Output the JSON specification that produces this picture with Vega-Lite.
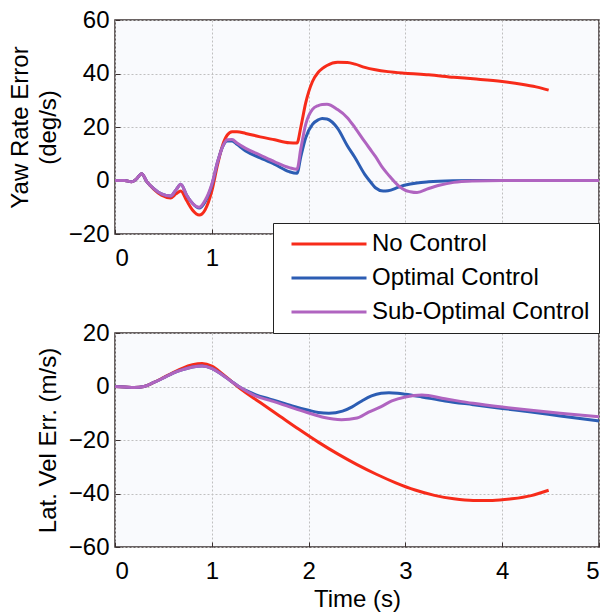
{
  "$schema": "https://vega.github.io/schema/vega-lite/v6.json",
  "padding": {"left": 7, "top": 7, "right": 0, "bottom": 0},
  "background": "#ffffff",
  "spacing": 99,
  "bounds": "flush",
  "config": {
    "font": "Liberation Sans",
    "view": {"fill": "#f9fafd", "stroke": "#3a3030", "strokeWidth": 1.5},
    "axis": {
      "labelFontSize": 24, "titleFontSize": 24, "titleFontWeight": "normal",
      "labelColor": "#000000", "titleColor": "#000000", "titleLineHeight": 28,
      "domain": false, "ticks": true, "tickSize": -5, "tickColor": "#3a3030",
      "gridColor": "#c0c0c0", "gridDash": [2, 2], "gridWidth": 1,
      "labelFont": "Liberation Sans", "titleFont": "Liberation Sans"
    },
    "line": {"strokeWidth": 3, "interpolate": "monotone"}
  },
  "datasets": {
    "yaw": [
      {"t":0,"s":"No Control","v":0},{"t":0.1,"s":"No Control","v":0},{"t":0.17,"s":"No Control","v":-0.5},{"t":0.22,"s":"No Control","v":0.5},{"t":0.275,"s":"No Control","v":2.5},{"t":0.33,"s":"No Control","v":-0.5},{"t":0.4,"s":"No Control","v":-3.2},{"t":0.48,"s":"No Control","v":-5.5},{"t":0.575,"s":"No Control","v":-6.5},{"t":0.63,"s":"No Control","v":-5},{"t":0.68,"s":"No Control","v":-3.9},{"t":0.74,"s":"No Control","v":-7.5},{"t":0.8,"s":"No Control","v":-11},{"t":0.87,"s":"No Control","v":-12.9},{"t":0.93,"s":"No Control","v":-11},{"t":1.0,"s":"No Control","v":-4},{"t":1.06,"s":"No Control","v":6},{"t":1.11,"s":"No Control","v":13},{"t":1.16,"s":"No Control","v":17},{"t":1.21,"s":"No Control","v":18.2},{"t":1.26,"s":"No Control","v":18.2},{"t":1.35,"s":"No Control","v":17.6},{"t":1.5,"s":"No Control","v":16.3},{"t":1.65,"s":"No Control","v":15.2},{"t":1.8,"s":"No Control","v":14.1},{"t":1.88,"s":"No Control","v":14},{"t":1.92,"s":"No Control","v":20},{"t":1.97,"s":"No Control","v":29},{"t":2.04,"s":"No Control","v":37},{"t":2.1,"s":"No Control","v":40.5},{"t":2.14,"s":"No Control","v":41.8},{"t":2.19,"s":"No Control","v":43},{"t":2.3,"s":"No Control","v":44.2},{"t":2.4,"s":"No Control","v":44.1},{"t":2.48,"s":"No Control","v":43.5},{"t":2.58,"s":"No Control","v":42.3},{"t":2.69,"s":"No Control","v":41.4},{"t":2.82,"s":"No Control","v":40.7},{"t":3.0,"s":"No Control","v":40.1},{"t":3.24,"s":"No Control","v":39.5},{"t":3.5,"s":"No Control","v":38.6},{"t":3.7,"s":"No Control","v":38},{"t":4.0,"s":"No Control","v":37},{"t":4.2,"s":"No Control","v":36},{"t":4.35,"s":"No Control","v":35},{"t":4.48,"s":"No Control","v":33.8},
      {"t":0,"s":"Optimal Control","v":0},{"t":0.1,"s":"Optimal Control","v":0},{"t":0.17,"s":"Optimal Control","v":-0.5},{"t":0.22,"s":"Optimal Control","v":0.5},{"t":0.275,"s":"Optimal Control","v":2.5},{"t":0.33,"s":"Optimal Control","v":-0.5},{"t":0.4,"s":"Optimal Control","v":-3},{"t":0.48,"s":"Optimal Control","v":-5},{"t":0.575,"s":"Optimal Control","v":-5.8},{"t":0.63,"s":"Optimal Control","v":-3.5},{"t":0.68,"s":"Optimal Control","v":-1.4},{"t":0.74,"s":"Optimal Control","v":-5.5},{"t":0.8,"s":"Optimal Control","v":-8.5},{"t":0.87,"s":"Optimal Control","v":-10.3},{"t":0.93,"s":"Optimal Control","v":-8},{"t":1.0,"s":"Optimal Control","v":-1.8},{"t":1.06,"s":"Optimal Control","v":7},{"t":1.11,"s":"Optimal Control","v":12.5},{"t":1.16,"s":"Optimal Control","v":14.8},{"t":1.21,"s":"Optimal Control","v":14.8},{"t":1.26,"s":"Optimal Control","v":13.5},{"t":1.35,"s":"Optimal Control","v":11},{"t":1.5,"s":"Optimal Control","v":8.5},{"t":1.65,"s":"Optimal Control","v":6},{"t":1.8,"s":"Optimal Control","v":3.3},{"t":1.88,"s":"Optimal Control","v":2.7},{"t":1.92,"s":"Optimal Control","v":9},{"t":1.97,"s":"Optimal Control","v":16},{"t":2.04,"s":"Optimal Control","v":21},{"t":2.1,"s":"Optimal Control","v":22.7},{"t":2.14,"s":"Optimal Control","v":23.2},{"t":2.19,"s":"Optimal Control","v":23},{"t":2.3,"s":"Optimal Control","v":19.5},{"t":2.4,"s":"Optimal Control","v":13},{"t":2.48,"s":"Optimal Control","v":8.5},{"t":2.58,"s":"Optimal Control","v":2.3},{"t":2.65,"s":"Optimal Control","v":-1},{"t":2.69,"s":"Optimal Control","v":-2.7},{"t":2.77,"s":"Optimal Control","v":-3.9},{"t":2.82,"s":"Optimal Control","v":-3.8},{"t":2.93,"s":"Optimal Control","v":-2.5},{"t":3.0,"s":"Optimal Control","v":-1.7},{"t":3.12,"s":"Optimal Control","v":-0.9},{"t":3.24,"s":"Optimal Control","v":-0.5},{"t":3.5,"s":"Optimal Control","v":-0.1},{"t":3.7,"s":"Optimal Control","v":0},{"t":4.0,"s":"Optimal Control","v":0},{"t":5.0,"s":"Optimal Control","v":0},
      {"t":0,"s":"Sub-Optimal Control","v":0},{"t":0.1,"s":"Sub-Optimal Control","v":0},{"t":0.17,"s":"Sub-Optimal Control","v":-0.5},{"t":0.22,"s":"Sub-Optimal Control","v":0.5},{"t":0.275,"s":"Sub-Optimal Control","v":2.5},{"t":0.33,"s":"Sub-Optimal Control","v":-0.5},{"t":0.4,"s":"Sub-Optimal Control","v":-3},{"t":0.48,"s":"Sub-Optimal Control","v":-5},{"t":0.575,"s":"Sub-Optimal Control","v":-5.8},{"t":0.63,"s":"Sub-Optimal Control","v":-3.5},{"t":0.68,"s":"Sub-Optimal Control","v":-1.4},{"t":0.74,"s":"Sub-Optimal Control","v":-5.5},{"t":0.8,"s":"Sub-Optimal Control","v":-8.5},{"t":0.87,"s":"Sub-Optimal Control","v":-10},{"t":0.93,"s":"Sub-Optimal Control","v":-7.5},{"t":1.0,"s":"Sub-Optimal Control","v":-1.4},{"t":1.06,"s":"Sub-Optimal Control","v":7},{"t":1.11,"s":"Sub-Optimal Control","v":12.5},{"t":1.16,"s":"Sub-Optimal Control","v":15.2},{"t":1.21,"s":"Sub-Optimal Control","v":15.3},{"t":1.26,"s":"Sub-Optimal Control","v":14},{"t":1.35,"s":"Sub-Optimal Control","v":12},{"t":1.5,"s":"Sub-Optimal Control","v":9.5},{"t":1.65,"s":"Sub-Optimal Control","v":7},{"t":1.8,"s":"Sub-Optimal Control","v":4.8},{"t":1.88,"s":"Sub-Optimal Control","v":4.2},{"t":1.92,"s":"Sub-Optimal Control","v":12},{"t":1.97,"s":"Sub-Optimal Control","v":21},{"t":2.04,"s":"Sub-Optimal Control","v":26.6},{"t":2.1,"s":"Sub-Optimal Control","v":28},{"t":2.14,"s":"Sub-Optimal Control","v":28.4},{"t":2.19,"s":"Sub-Optimal Control","v":28.5},{"t":2.3,"s":"Sub-Optimal Control","v":26.5},{"t":2.4,"s":"Sub-Optimal Control","v":23.5},{"t":2.48,"s":"Sub-Optimal Control","v":19.7},{"t":2.58,"s":"Sub-Optimal Control","v":14.5},{"t":2.65,"s":"Sub-Optimal Control","v":11},{"t":2.69,"s":"Sub-Optimal Control","v":9},{"t":2.77,"s":"Sub-Optimal Control","v":4.5},{"t":2.82,"s":"Sub-Optimal Control","v":2.3},{"t":2.93,"s":"Sub-Optimal Control","v":-2},{"t":3.0,"s":"Sub-Optimal Control","v":-3.7},{"t":3.05,"s":"Sub-Optimal Control","v":-4.2},{"t":3.12,"s":"Sub-Optimal Control","v":-4.5},{"t":3.24,"s":"Sub-Optimal Control","v":-3},{"t":3.35,"s":"Sub-Optimal Control","v":-1.8},{"t":3.5,"s":"Sub-Optimal Control","v":-0.7},{"t":3.7,"s":"Sub-Optimal Control","v":-0.2},{"t":4.0,"s":"Sub-Optimal Control","v":0},{"t":5.0,"s":"Sub-Optimal Control","v":0}
    ],
    "lat": [
      {"t":0,"s":"No Control","v":0},{"t":0.1,"s":"No Control","v":-0.2},{"t":0.2,"s":"No Control","v":-0.4},{"t":0.3,"s":"No Control","v":0},{"t":0.4,"s":"No Control","v":1.5},{"t":0.5,"s":"No Control","v":3.3},{"t":0.6,"s":"No Control","v":5.2},{"t":0.7,"s":"No Control","v":6.9},{"t":0.8,"s":"No Control","v":8.1},{"t":0.9,"s":"No Control","v":8.6},{"t":1.0,"s":"No Control","v":7.6},{"t":1.1,"s":"No Control","v":5},{"t":1.2,"s":"No Control","v":2},{"t":1.3,"s":"No Control","v":-1},{"t":1.5,"s":"No Control","v":-6},{"t":1.7,"s":"No Control","v":-11},{"t":1.9,"s":"No Control","v":-16},{"t":2.1,"s":"No Control","v":-20.8},{"t":2.3,"s":"No Control","v":-25.2},{"t":2.5,"s":"No Control","v":-29.2},{"t":2.7,"s":"No Control","v":-32.8},{"t":2.9,"s":"No Control","v":-36},{"t":3.1,"s":"No Control","v":-38.7},{"t":3.3,"s":"No Control","v":-40.7},{"t":3.5,"s":"No Control","v":-42},{"t":3.7,"s":"No Control","v":-42.6},{"t":3.9,"s":"No Control","v":-42.6},{"t":4.1,"s":"No Control","v":-42},{"t":4.3,"s":"No Control","v":-40.8},{"t":4.48,"s":"No Control","v":-38.8},
      {"t":0,"s":"Optimal Control","v":0},{"t":0.1,"s":"Optimal Control","v":-0.2},{"t":0.2,"s":"Optimal Control","v":-0.4},{"t":0.3,"s":"Optimal Control","v":0},{"t":0.4,"s":"Optimal Control","v":1.5},{"t":0.5,"s":"Optimal Control","v":3.2},{"t":0.6,"s":"Optimal Control","v":5},{"t":0.7,"s":"Optimal Control","v":6.3},{"t":0.8,"s":"Optimal Control","v":7.3},{"t":0.9,"s":"Optimal Control","v":7.7},{"t":1.0,"s":"Optimal Control","v":6.8},{"t":1.1,"s":"Optimal Control","v":4.6},{"t":1.2,"s":"Optimal Control","v":2},{"t":1.3,"s":"Optimal Control","v":-0.5},{"t":1.45,"s":"Optimal Control","v":-3},{"t":1.6,"s":"Optimal Control","v":-4.7},{"t":1.69,"s":"Optimal Control","v":-5.7},{"t":1.85,"s":"Optimal Control","v":-7.5},{"t":2.0,"s":"Optimal Control","v":-8.9},{"t":2.1,"s":"Optimal Control","v":-9.7},{"t":2.21,"s":"Optimal Control","v":-10},{"t":2.35,"s":"Optimal Control","v":-9.2},{"t":2.45,"s":"Optimal Control","v":-7.6},{"t":2.55,"s":"Optimal Control","v":-5.4},{"t":2.65,"s":"Optimal Control","v":-3.5},{"t":2.75,"s":"Optimal Control","v":-2.5},{"t":2.83,"s":"Optimal Control","v":-2.3},{"t":2.92,"s":"Optimal Control","v":-2.5},{"t":3.0,"s":"Optimal Control","v":-2.9},{"t":3.17,"s":"Optimal Control","v":-3.9},{"t":3.41,"s":"Optimal Control","v":-5.4},{"t":3.7,"s":"Optimal Control","v":-6.8},{"t":4.0,"s":"Optimal Control","v":-8.2},{"t":4.3,"s":"Optimal Control","v":-9.5},{"t":4.6,"s":"Optimal Control","v":-11},{"t":5.0,"s":"Optimal Control","v":-12.9},
      {"t":0,"s":"Sub-Optimal Control","v":0},{"t":0.1,"s":"Sub-Optimal Control","v":-0.2},{"t":0.2,"s":"Sub-Optimal Control","v":-0.4},{"t":0.3,"s":"Sub-Optimal Control","v":0},{"t":0.4,"s":"Sub-Optimal Control","v":1.5},{"t":0.5,"s":"Sub-Optimal Control","v":3.2},{"t":0.6,"s":"Sub-Optimal Control","v":5},{"t":0.7,"s":"Sub-Optimal Control","v":6.3},{"t":0.8,"s":"Sub-Optimal Control","v":7.3},{"t":0.9,"s":"Sub-Optimal Control","v":7.7},{"t":1.0,"s":"Sub-Optimal Control","v":6.8},{"t":1.1,"s":"Sub-Optimal Control","v":4.6},{"t":1.2,"s":"Sub-Optimal Control","v":2},{"t":1.3,"s":"Sub-Optimal Control","v":-0.5},{"t":1.45,"s":"Sub-Optimal Control","v":-3.5},{"t":1.6,"s":"Sub-Optimal Control","v":-5.2},{"t":1.69,"s":"Sub-Optimal Control","v":-6.2},{"t":1.85,"s":"Sub-Optimal Control","v":-8.2},{"t":2.0,"s":"Sub-Optimal Control","v":-9.9},{"t":2.15,"s":"Sub-Optimal Control","v":-11.5},{"t":2.34,"s":"Sub-Optimal Control","v":-12.4},{"t":2.5,"s":"Sub-Optimal Control","v":-11.8},{"t":2.62,"s":"Sub-Optimal Control","v":-9.6},{"t":2.75,"s":"Sub-Optimal Control","v":-7.5},{"t":2.86,"s":"Sub-Optimal Control","v":-5.4},{"t":3.0,"s":"Sub-Optimal Control","v":-3.9},{"t":3.17,"s":"Sub-Optimal Control","v":-3.2},{"t":3.41,"s":"Sub-Optimal Control","v":-4.6},{"t":3.7,"s":"Sub-Optimal Control","v":-6.3},{"t":4.0,"s":"Sub-Optimal Control","v":-7.7},{"t":4.3,"s":"Sub-Optimal Control","v":-8.9},{"t":4.6,"s":"Sub-Optimal Control","v":-10},{"t":5.0,"s":"Sub-Optimal Control","v":-11.3}
    ]
  },
  "vconcat": [
    {
      "width": 484, "height": 214,
      "data": {"name": "yaw"},
      "mark": {"type": "line", "interpolate": "monotone"},
      "encoding": {
        "x": {"field": "t", "type": "quantitative", "scale": {"domain": [0, 5], "nice": false},
              "axis": {"title": null, "values": [0,1,2,3,4,5], "labelPadding": 17, "labelExpr": "datum.value < 2 ? datum.label : ''"}},
        "y": {"field": "v", "type": "quantitative", "scale": {"domain": [-20, 60], "nice": false},
              "axis": {"title": ["Yaw Rate Error", "(deg/s)"], "values": [-20,0,20,40,60], "labelPadding": 11, "titlePadding": 8}},
        "color": {"field": "s", "type": "nominal",
                  "scale": {"domain": ["No Control", "Optimal Control", "Sub-Optimal Control"], "range": ["#f72b1a", "#2c5db3", "#b064c0"]},
                  "legend": {"title": null, "orient": "none", "legendX": 158, "legendY": 203,
                             "fillColor": "#ffffff", "strokeColor": "#222222", "padding": 9,
                             "labelFontSize": 24, "labelFont": "Liberation Sans", "labelColor": "#000000",
                             "rowPadding": 10, "symbolType": "M-7.5,0H7.5", "symbolSize": 100,
                             "symbolStrokeWidth": 3, "symbolOffset": 35, "labelOffset": 31, "labelLimit": 400}}
      }
    },
    {
      "width": 484, "height": 214,
      "data": {"name": "lat"},
      "mark": {"type": "line", "interpolate": "monotone"},
      "encoding": {
        "x": {"field": "t", "type": "quantitative", "scale": {"domain": [0, 5], "nice": false},
              "axis": {"title": "Time (s)", "values": [0,1,2,3,4,5], "labelPadding": 17, "titlePadding": 4}},
        "y": {"field": "v", "type": "quantitative", "scale": {"domain": [-60, 20], "nice": false},
              "axis": {"title": "Lat. Vel Err. (m/s)", "values": [-60,-40,-20,0,20], "labelPadding": 11, "titlePadding": 8}},
        "color": {"field": "s", "type": "nominal",
                  "scale": {"domain": ["No Control", "Optimal Control", "Sub-Optimal Control"], "range": ["#f72b1a", "#2c5db3", "#b064c0"]},
                  "legend": {"title": null, "orient": "none", "legendX": 158, "legendY": 203,
                             "fillColor": "#ffffff", "strokeColor": "#222222", "padding": 9,
                             "labelFontSize": 24, "labelFont": "Liberation Sans", "labelColor": "#000000",
                             "rowPadding": 10, "symbolType": "M-7.5,0H7.5", "symbolSize": 100,
                             "symbolStrokeWidth": 3, "symbolOffset": 35, "labelOffset": 31, "labelLimit": 400}}
      }
    }
  ]
}
